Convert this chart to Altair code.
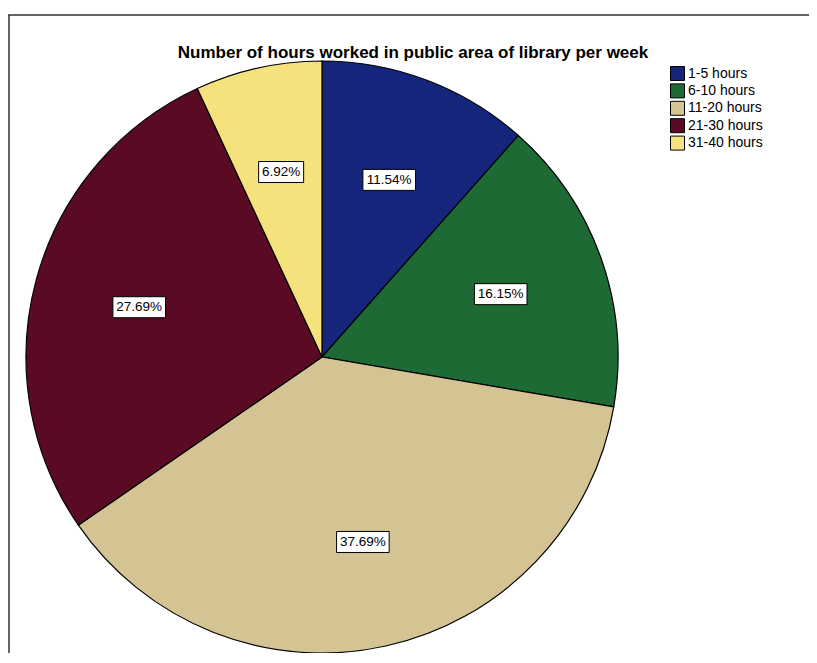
import altair as alt
import pandas as pd

categories = ["1-5 hours", "6-10 hours", "11-20 hours", "21-30 hours", "31-40 hours"]
percents = [11.54, 16.15, 37.69, 27.69, 6.92]
colors = ["#15257c", "#1e6a35", "#d4c493", "#5a0b23", "#f6e27c"]
title_text = "Number of hours worked in public area of library per week"

W, H = 801, 645
CX, CY, R = 314, 349, 296
LR = 0.64 * R
FONT = "Liberation Sans"

df = pd.DataFrame({"category": categories, "pct": percents, "idx": list(range(len(categories)))})
one = pd.DataFrame({"t": [title_text]})

xs = alt.Scale(domain=[0, W], range=[0, W], nice=False, zero=False)
ys = alt.Scale(domain=[0, H], range=[0, H], nice=False, zero=False)

base = alt.Chart(df)

arcs = base.mark_arc(radius=R, stroke="black", strokeWidth=1.2).encode(
    theta=alt.Theta("pct:Q", stack=True),
    order=alt.Order("idx:Q"),
    color=alt.Color(
        "category:N",
        sort=categories,
        scale=alt.Scale(domain=categories, range=colors),
        legend=alt.Legend(
            title=None, orient="none", legendX=662, legendY=58,
            symbolType="square", symbolSize=196, symbolStrokeColor="black",
            symbolStrokeWidth=1, symbolOpacity=1, labelFontSize=14, labelFont=FONT,
            labelColor="black", rowPadding=-1.6, labelOffset=3, padding=0,
        ),
    ),
    x=alt.value(CX),
    y=alt.value(CY),
)

lab = base.transform_joinaggregate(total="sum(pct)").transform_window(
    cum="sum(pct)", sort=[alt.SortField("idx")], frame=[None, 0]
).transform_calculate(
    ang="(datum.cum - datum.pct/2) / datum.total * 2 * PI",
).transform_calculate(
    lx=f"{CX} + {LR} * sin(datum.ang)",
    ly=f"{CY} - {LR} * cos(datum.ang)",
    label="format(datum.pct, '.2f') + '%'",
).transform_calculate(
    hw="length(datum.label) * 3.8 + 3.5",
).transform_calculate(
    bx1="datum.lx - datum.hw",
    bx2="datum.lx + datum.hw",
    by1="datum.ly - 10.5",
    by2="datum.ly + 10.5",
)

boxes = lab.mark_rect(fill="white", stroke="black", strokeWidth=1).encode(
    x=alt.X("bx1:Q", scale=xs, axis=None),
    x2="bx2:Q",
    y=alt.Y("by1:Q", scale=ys, axis=None),
    y2="by2:Q",
)

texts = lab.mark_text(font=FONT, fontSize=13.5, color="black").encode(
    x=alt.X("lx:Q", scale=xs, axis=None),
    y=alt.Y("ly:Q", scale=ys, axis=None),
    text="label:N",
)

title = alt.Chart(one).mark_text(font=FONT, fontSize=17, fontWeight="bold", color="black").encode(
    x=alt.value(405), y=alt.value(45), text="t:N"
)

frame_top = alt.Chart(one).mark_rule(color="#333333", strokeWidth=1.5).encode(
    x=alt.value(0), x2=alt.value(W), y=alt.value(7)
)
frame_left = alt.Chart(one).mark_rule(color="#333333", strokeWidth=1.5).encode(
    x=alt.value(1), y=alt.value(7), y2=alt.value(H)
)

chart = alt.layer(frame_top, frame_left, arcs, boxes, texts, title).properties(
    width=W, height=H, padding=0,
    autosize=alt.AutoSizeParams(type="none"),
).configure_view(stroke=None).resolve_scale(x="shared", y="shared")

chart.save("out.html", embed_options={"renderer": "svg", "actions": False})
